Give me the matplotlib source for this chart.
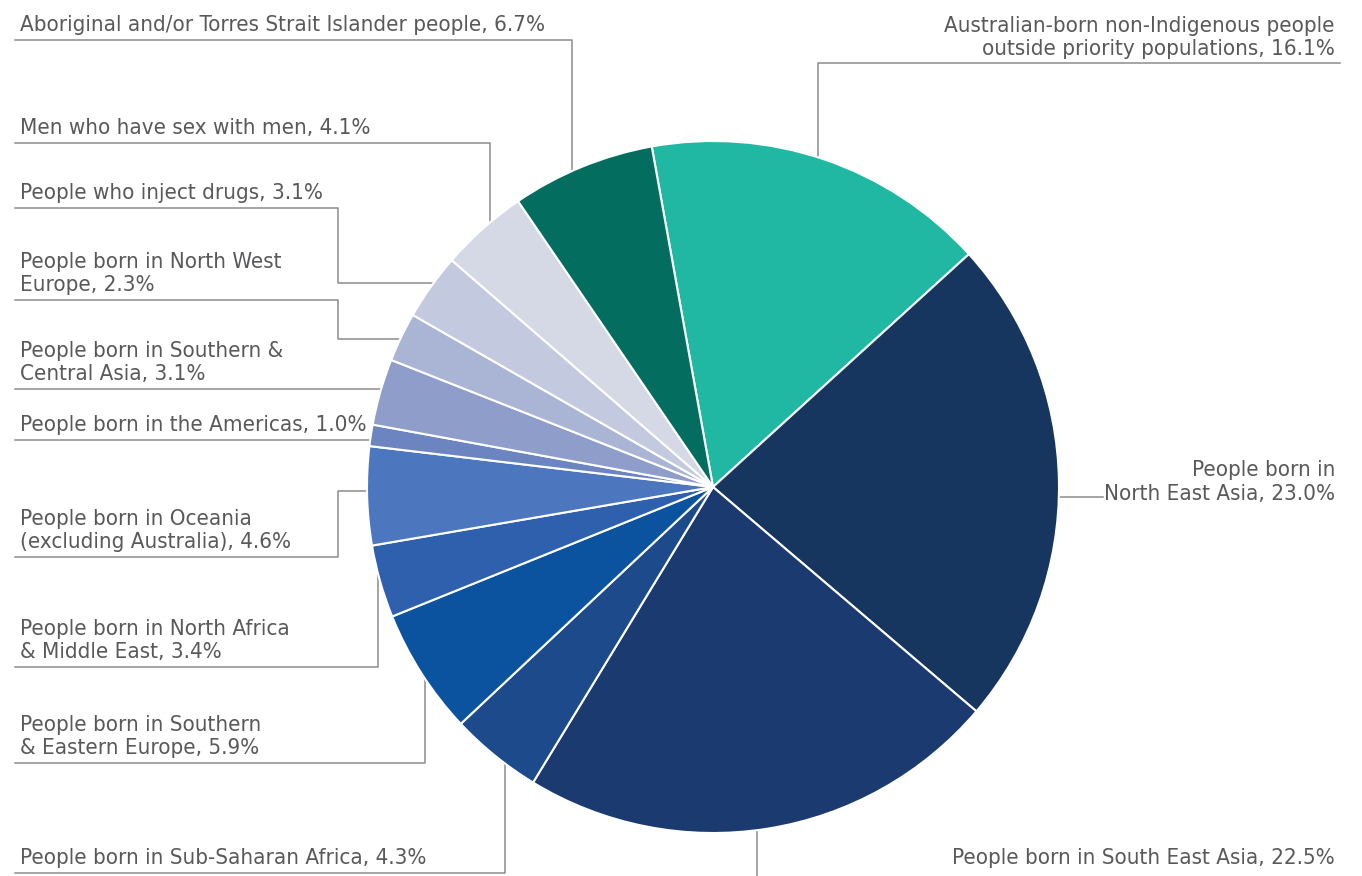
import numpy as np
import matplotlib.pyplot as plt

plt.rcParams["font.family"] = ["DejaVu Sans"]
plt.rcParams["font.stretch"] = "condensed"

# share of notifications by population group, clockwise from the top
groups = [
    "Australian-born non-Indigenous people\noutside priority populations",
    "People born in\nNorth East Asia",
    "People born in South East Asia",
    "People born in Sub-Saharan Africa",
    "People born in Southern\n& Eastern Europe",
    "People born in North Africa\n& Middle East",
    "People born in Oceania\n(excluding Australia)",
    "People born in the Americas",
    "People born in Southern &\nCentral Asia",
    "People born in North West\nEurope",
    "People who inject drugs",
    "Men who have sex with men",
    "Aboriginal and/or Torres Strait Islander people",
]
shares = [16.1, 23.0, 22.5, 4.3, 5.9, 3.4, 4.6, 1.0, 3.1, 2.3, 3.1, 4.1, 6.7]
colors = ["#20B8A2", "#17365F", "#1A3A70", "#1C4A8A", "#0B539E", "#2E60AE",
          "#4C77BE", "#6C85C0", "#8E9DCA", "#AAB4D4", "#C3C9DE", "#D5D9E6",
          "#036E60"]

# layout in pixel coordinates (y down)
cx, cy, r = 713, 487, 346
text_col = "#58595B"
line_col = "#8C8C8C"

# leader routes: last point has None where it meets the pie
routes = [
    [(1340, 63), (818, 63), (818, None)],
    [(1103, 497), (None, 497)],
    [(757, 876), (757, None)],
    [(15, 873), (505, 873), (505, None)],
    [(15, 763), (425, 763), (425, None)],
    [(15, 667), (378, 667), (378, None)],
    [(15, 557), (338, 557), (338, 491), (None, 491)],
    [(15, 440), (None, 440)],
    [(15, 389), (None, 389)],
    [(15, 300), (338, 300), (338, 339), (None, 339)],
    [(15, 208), (338, 208), (338, 283), (None, 283)],
    [(15, 143), (490, 143), (490, None)],
    [(15, 40), (572, 40), (572, None)],
]
# text anchors: x, y, ha, va
anchors = [
    (1335, 59, "right", "bottom"),
    (1335, 482, "right", "center"),
    (1335, 858, "right", "center"),
    (20, 868, "left", "bottom"),
    (20, 758, "left", "bottom"),
    (20, 662, "left", "bottom"),
    (20, 552, "left", "bottom"),
    (20, 435, "left", "bottom"),
    (20, 384, "left", "bottom"),
    (20, 295, "left", "bottom"),
    (20, 203, "left", "bottom"),
    (20, 138, "left", "bottom"),
    (20, 35, "left", "bottom"),
]

fig = plt.figure(figsize=(13.62, 8.76), dpi=100)
ax = fig.add_axes([0, 0, 1, 1])
ax.set_xlim(0, 1362)
ax.set_ylim(876, 0)
ax.set_aspect("equal")
ax.axis("off")

# y axis is inverted, so counterclock in data runs clockwise on screen
ax.pie(shares, colors=colors, center=(cx, cy), radius=r,
       startangle=-100.2, counterclock=True,
       wedgeprops=dict(edgecolor="white", linewidth=1.5))
ax.set_xlim(0, 1362)
ax.set_ylim(876, 0)


def meet_pie(prev, last):
    x, y = last
    if x is None:
        side = 1 if prev[0] > cx else -1
        return (cx + side * np.sqrt(r ** 2 - (y - cy) ** 2), y)
    side = 1 if prev[1] > cy else -1
    return (x, cy + side * np.sqrt(r ** 2 - (x - cx) ** 2))


for name, val, route, (tx, ty, ha, va) in zip(groups, shares, routes, anchors):
    pts = route[:-1] + [meet_pie(route[-2], route[-1])]
    xs, ys = zip(*pts)
    ax.plot(xs, ys, color=line_col, lw=1.1, zorder=0)
    ax.text(tx, ty, "%s, %.1f%%" % (name, val), ha=ha, va=va,
            multialignment=ha, fontsize=16, color=text_col,
            linespacing=1.2)

fig.savefig("out.png", dpi=100)
